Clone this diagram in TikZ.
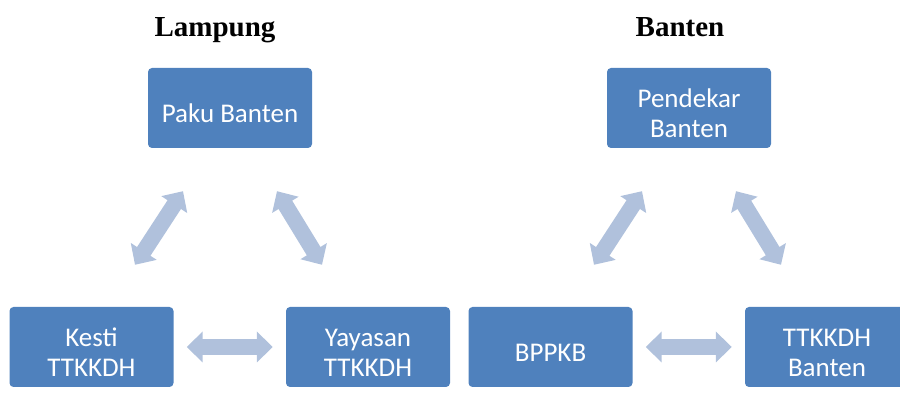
\documentclass[tikz,border=0pt]{standalone}
\usepackage{fontspec}
\setmainfont{Liberation Serif}
\setsansfont{Carlito}
\definecolor{boxblue}{HTML}{4F81BD}
\definecolor{arrowblue}{HTML}{B0C1DC}
\usetikzlibrary{arrows.meta, positioning, calc}
\newcommand{\lift}{\rule{0pt}{29pt}}

\begin{document}
\begin{tikzpicture}[
  x=1pt, y=1pt,
  orgbox/.style={fill=boxblue, rounded corners=4pt, minimum width=164pt, minimum height=80pt,
    align=center, text=white, font=\sffamily\fontsize{27}{30}\selectfont, inner sep=2pt},
  grouptitle/.style={anchor=base, font=\rmfamily\bfseries\fontsize{29}{32}\selectfont},
  biarrow/.style={draw=arrowblue, line width=16pt,
    {Triangle[width=30pt, length=16pt, fill=arrowblue]}-{Triangle[width=30pt, length=16pt, fill=arrowblue]}}
]
  \useasboundingbox (0,0) rectangle (900,414);

  % Lampung
  \node[grouptitle] (lampung) at (215, 377) {Lampung};
  \node[orgbox] (paku) at (230, 306) {\lift Paku Banten};
  \node[orgbox] (kesti) at (91.5, 67) {\lift Kesti\\TTKKDH};
  \node[orgbox] (yayasan) at (368, 67) {\lift Yayasan\\TTKKDH};

  \draw[biarrow] ($(kesti.north)+(43.5,42)$) -- ($(paku.south)+(-47,-43)$);
  \draw[biarrow] ($(yayasan.north)+(-46,42)$) -- ($(paku.south)+(47,-43)$);
  \draw[biarrow] ($(kesti.east)+(13,0)$) -- ($(yayasan.west)+(-13,0)$);

  % Banten
  \node[grouptitle] (banten) at (680, 377) {Banten};
  \node[orgbox] (pendekar) at (689, 306) {\lift Pendekar\\Banten};
  \node[orgbox] (bppkb) at (550.5, 67) {\lift BPPKB};
  \node[orgbox] (ttkkdh) at (827, 67) {\lift TTKKDH\\Banten};

  \draw[biarrow] ($(bppkb.north)+(43.5,42)$) -- ($(pendekar.south)+(-47,-43)$);
  \draw[biarrow] ($(ttkkdh.north)+(-46,42)$) -- ($(pendekar.south)+(47,-43)$);
  \draw[biarrow] ($(bppkb.east)+(13,0)$) -- ($(ttkkdh.west)+(-13,0)$);
\end{tikzpicture}
\end{document}
